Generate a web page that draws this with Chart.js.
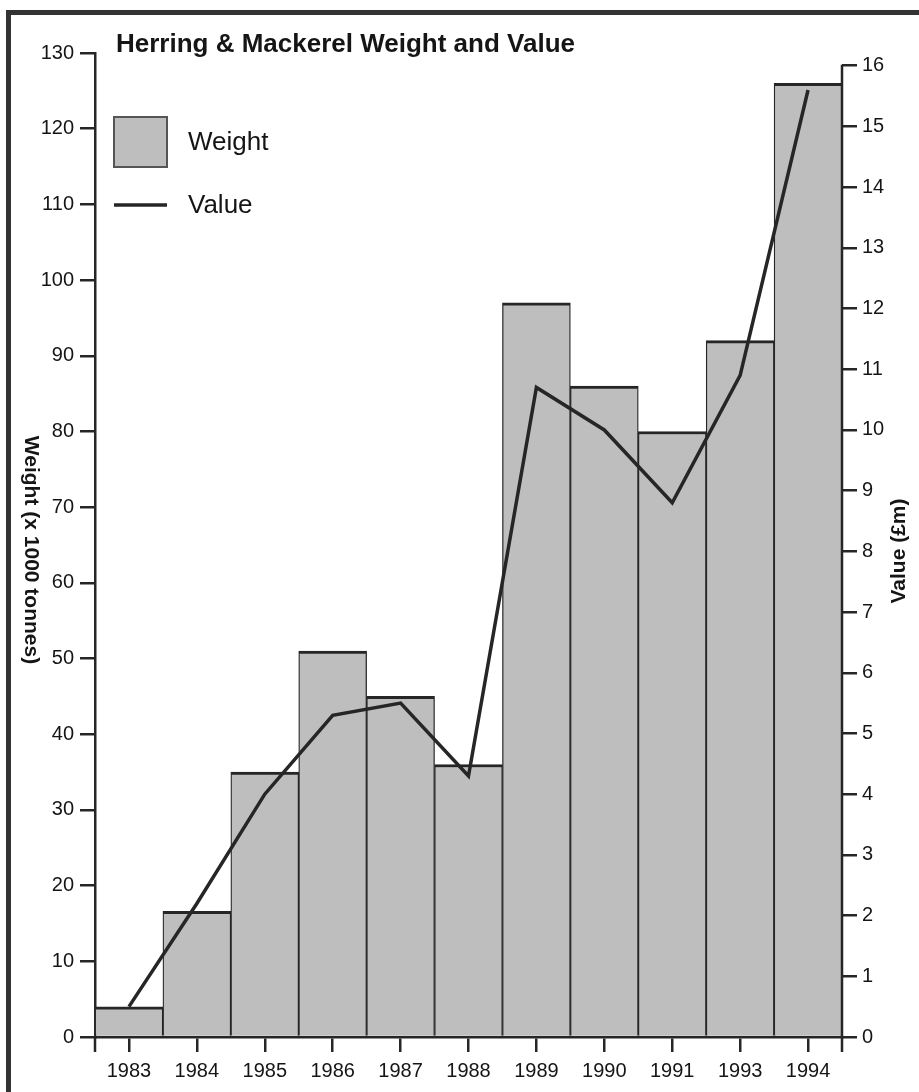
<!DOCTYPE html>
<html lang="en">
<head>
    <meta charset="utf-8">
    <title>Herring & Mackerel Weight and Value</title>
    <script src="https://cdn.jsdelivr.net/npm/chart.js@4.4.1/dist/chart.umd.min.js"></script>
    <style>
        body {
            margin: 0;
            background: #fff;
        }

        /* frame round the figure, only left and top show in the scan */
        .frame {
            position: absolute;
            left: 6px;
            top: 10px;
            width: 930px;
            height: 1100px;
            border-left: 5px solid #333;
            border-top: 5px solid #333;
            box-sizing: border-box;
        }

        .holder {
            position: absolute;
            left: 0;
            top: 0;
            width: 919px;
            height: 1092px;
        }
    </style>
</head>
<body>

    <div class="frame"></div>
    <div class="holder">
        <canvas id="fishChart" width="919" height="1092"></canvas>
    </div>

    <script>
        // values
        var years = ['1983', '1984', '1985', '1986', '1987', '1988', '1989', '1990', '1991', '1993', '1994'];
        var weight = [4, 16.6, 35, 51, 45, 36, 97, 86, 80, 92, 126];
        var value = [0.5, 2.2, 4.0, 5.3, 5.5, 4.3, 10.7, 10.0, 8.8, 10.9, 15.6];

        var weightTicks = [0, 10, 20, 30, 40, 50, 60, 70, 80, 90, 100, 110, 120, 130];
        var valueTicks = [0, 1, 2, 3, 4, 5, 6, 7, 8, 9, 10, 11, 12, 13, 14, 15, 16];

        var ink = '#262626';
        var barGrey = '#bebebe';
        var fontName = "'Liberation Sans', Arial, sans-serif";

        Chart.defaults.font.family = fontName;
        Chart.defaults.color = '#151515';

        // title, legend, axis titles and the bits of axis chart.js won't draw
        var extras = {
            id: 'extras',
            afterDraw: function (chart) {
                var ctx = chart.ctx;
                var area = chart.chartArea;
                var yR = chart.scales.y1;
                ctx.save();

                // right axis line only runs up to 16
                ctx.strokeStyle = ink;
                ctx.lineWidth = 2.5;
                ctx.beginPath();
                ctx.moveTo(area.right, yR.getPixelForValue(valueTicks[valueTicks.length - 1]) - 1);
                ctx.lineTo(area.right, area.bottom + 15);
                ctx.stroke();

                // end ticks under the x axis
                ctx.beginPath();
                ctx.moveTo(area.left, area.bottom);
                ctx.lineTo(area.left, area.bottom + 15);
                ctx.stroke();

                // title
                ctx.fillStyle = '#151515';
                ctx.font = "bold 26px " + fontName;
                ctx.textBaseline = 'middle';
                ctx.textAlign = 'left';
                ctx.fillText('Herring & Mackerel Weight and Value', 116, 45);

                // legend
                ctx.fillStyle = barGrey;
                ctx.fillRect(114, 117, 53, 50);
                ctx.strokeStyle = '#555';
                ctx.lineWidth = 2;
                ctx.strokeRect(114, 117, 53, 50);
                ctx.strokeStyle = ink;
                ctx.lineWidth = 3.5;
                ctx.beginPath();
                ctx.moveTo(114, 205);
                ctx.lineTo(167, 205);
                ctx.stroke();
                ctx.fillStyle = '#151515';
                ctx.font = "26px " + fontName;
                ctx.fillText('Weight', 188, 143);
                ctx.fillText('Value', 188, 206);

                // axis titles: left reads downwards, right reads upwards
                ctx.font = "bold 21px " + fontName;
                ctx.textAlign = 'center';
                ctx.save();
                ctx.translate(31, 550);
                ctx.rotate(Math.PI / 2);
                ctx.fillText('Weight (x 1000 tonnes)', 0, 0);
                ctx.restore();

                ctx.save();
                ctx.translate(899, 551);
                ctx.rotate(-Math.PI / 2);
                ctx.fillText('Value (£m)', 0, 0);
                ctx.restore();

                ctx.restore();
            }
        };

        var ctx = document.getElementById('fishChart').getContext('2d');
        var fishChart = new Chart(ctx, {
            type: 'bar',
            data: {
                labels: years,
                datasets: [{
                    type: 'line',
                    label: 'Value',
                    data: value,
                    yAxisID: 'y1',
                    borderColor: ink,
                    borderWidth: 3.5,
                    pointRadius: 0,
                    tension: 0,
                    fill: false,
                    order: 1
                }, {
                    type: 'bar',
                    label: 'Weight',
                    data: weight,
                    yAxisID: 'y',
                    backgroundColor: barGrey,
                    borderColor: ink,
                    borderWidth: { top: 3, left: 1.3, right: 1.3, bottom: 0 },
                    borderSkipped: false,
                    barPercentage: 1,
                    categoryPercentage: 1,
                    order: 2
                }]
            },
            options: {
                responsive: false,
                animation: false,
                layout: {
                    padding: { top: 53, left: 0, right: 0, bottom: 0 }
                },
                plugins: {
                    legend: { display: false },
                    title: { display: false },
                    tooltip: { enabled: false }
                },
                scales: {
                    x: {
                        offset: true,
                        grid: {
                            offset: false,
                            drawOnChartArea: false,
                            tickLength: 15,
                            color: ink,
                            lineWidth: 2.5
                        },
                        border: { display: true, color: ink, width: 2.5 },
                        ticks: {
                            padding: 7,
                            font: { size: 20 },
                            maxRotation: 0
                        },
                        afterFit: function (scale) {
                            scale.height = 55;
                        }
                    },
                    y: {
                        position: 'left',
                        min: weightTicks[0],
                        max: weightTicks[weightTicks.length - 1],
                        afterBuildTicks: function (scale) {
                            scale.ticks = weightTicks.map(function (v) { return { value: v }; });
                        },
                        grid: {
                            drawOnChartArea: false,
                            tickLength: 15,
                            color: ink,
                            lineWidth: 2.5
                        },
                        border: { display: true, color: ink, width: 2.5 },
                        ticks: {
                            padding: 6,
                            font: { size: 20 }
                        },
                        afterFit: function (scale) {
                            scale.width = 95;
                        }
                    },
                    y1: {
                        position: 'right',
                        min: 0,
                        max: 16.21,
                        afterBuildTicks: function (scale) {
                            scale.ticks = valueTicks.map(function (v) { return { value: v }; });
                        },
                        grid: {
                            drawOnChartArea: false,
                            tickLength: 15,
                            color: ink,
                            lineWidth: 2.5
                        },
                        border: { display: false },
                        ticks: {
                            padding: 5,
                            font: { size: 20 }
                        },
                        afterFit: function (scale) {
                            scale.width = 77;
                        }
                    }
                }
            },
            plugins: [extras]
        });
    </script>

</body>
</html>
